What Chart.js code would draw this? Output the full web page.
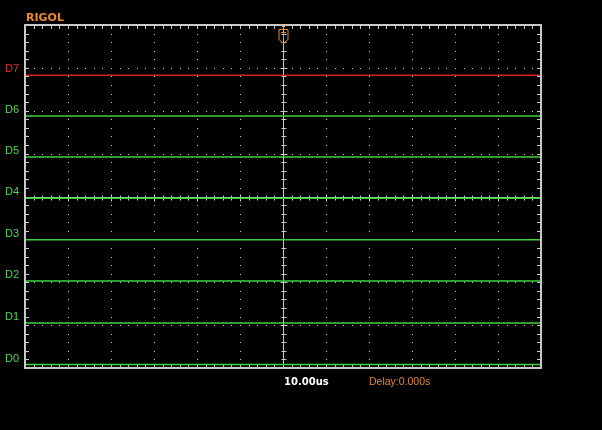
<!DOCTYPE html>
<html>
<head>
<meta charset="utf-8">
<script src="https://cdn.jsdelivr.net/npm/chart.js@4.4.1/dist/chart.umd.min.js"></script>
<style>
html,body{margin:0;padding:0;background:#000;}
#wrap{width:602px;height:430px;position:relative;background:#000;}
</style>
</head>
<body>
<div id="wrap"><canvas id="c" width="602" height="430"></canvas></div>
<script>
// Channel names and their (constant) logic trace levels, in screen divisions
const channels = ['D0','D1','D2','D3','D4','D5','D6','D7'];
const levels   = [0.08, 1.05, 2.03, 2.99, 3.96, 4.92, 5.88, 6.83];
const traceColors = ['#3fd23f','#3fd23f','#3fd23f','#3fd23f','#3fd23f','#3fd23f','#3fd23f','#d02626'];
const labelColors = ['#4fd64f','#4fd64f','#4fd64f','#4fd64f','#4fd64f','#4fd64f','#4fd64f','#e03030'];
// time axis (microseconds), 10 us / division, 12 divisions
const timeRange = [-60, 60];
const timebaseLabel = '10.00us';
const delayLabel = 'Delay:0.000s';
const brandLabel = 'RIGOL';

const datasets = channels.map((ch, i) => ({
  label: ch,
  data: [{x: timeRange[0], y: levels[i]}, {x: timeRange[1], y: levels[i]}],
  borderColor: traceColors[i],
  borderWidth: 1.5,
  pointRadius: 0,
  tension: 0
}));

const scopePlugin = {
  id: 'scope',
  beforeDatasetsDraw(chart) {
    const {ctx, chartArea: a, scales: {x, y}} = chart;
    ctx.save();
    // dotted graticule
    ctx.fillStyle = '#cfcfcf';
    for (let t = -50; t <= 50; t += 10) {
      if (t === 0) continue;
      const px = Math.round(x.getPixelForValue(t));
      for (let k = 1; k < 40; k++) {
        const py = Math.round(y.getPixelForValue(k * 0.2));
        ctx.fillRect(px, py, 1, 1);
      }
    }
    for (let v = 1; v <= 7; v++) {
      if (v === 4) continue;
      const py = Math.round(y.getPixelForValue(v));
      for (let k = 1; k < 60; k++) {
        const px = Math.round(x.getPixelForValue(timeRange[0] + k * 2));
        ctx.fillRect(px, py, 1, 1);
      }
    }
    // center cross
    ctx.strokeStyle = '#c8c8c8';
    ctx.lineWidth = 1;
    const cx = Math.round(x.getPixelForValue(0)) + 0.5;
    const cy = Math.round(y.getPixelForValue(4)) + 0.5;
    ctx.beginPath();
    ctx.moveTo(cx, a.top); ctx.lineTo(cx, a.bottom);
    ctx.moveTo(a.left, cy); ctx.lineTo(a.right, cy);
    for (let k = 1; k < 40; k++) {
      const py = Math.round(y.getPixelForValue(k * 0.2)) + 0.5;
      const l = (k % 5 === 0) ? 3 : 2;
      ctx.moveTo(cx - l, py); ctx.lineTo(cx + l + 1, py);
    }
    for (let k = 1; k < 60; k++) {
      const px = Math.round(x.getPixelForValue(timeRange[0] + k * 2)) + 0.5;
      const l = (k % 5 === 0) ? 3 : 2;
      ctx.moveTo(px, cy - l); ctx.lineTo(px, cy + l + 1);
    }
    ctx.stroke();
    // border ticks
    ctx.beginPath();
    for (let k = 1; k < 40; k++) {
      const py = Math.round(y.getPixelForValue(k * 0.2)) + 0.5;
      ctx.moveTo(a.left, py); ctx.lineTo(a.left + 4, py);
      ctx.moveTo(a.right, py); ctx.lineTo(a.right - 4, py);
    }
    for (let k = 1; k < 60; k++) {
      const px = Math.round(x.getPixelForValue(timeRange[0] + k * 2)) + 0.5;
      ctx.moveTo(px, a.top); ctx.lineTo(px, a.top + 4);
      ctx.moveTo(px, a.bottom); ctx.lineTo(px, a.bottom - 4);
    }
    ctx.stroke();
    ctx.restore();
  },
  afterDatasetsDraw(chart) {
    const {ctx, chartArea: a, scales: {x}} = chart;
    ctx.save();
    // frame
    ctx.strokeStyle = '#c8c8c8';
    ctx.lineWidth = 2;
    ctx.strokeRect(a.left, a.top, a.right - a.left, a.bottom - a.top);
    // trigger position marker
    const cx = Math.round(x.getPixelForValue(0)) + 0.5;
    ctx.strokeStyle = '#e08a30';
    ctx.lineWidth = 1;
    ctx.beginPath();
    ctx.moveTo(cx - 4.5, 29.5); ctx.lineTo(cx + 4.5, 29.5); ctx.lineTo(cx + 4.5, 39.5);
    ctx.lineTo(cx, 43.5); ctx.lineTo(cx - 4.5, 39.5); ctx.closePath();
    ctx.moveTo(cx - 2.5, 32.5); ctx.lineTo(cx + 2.5, 32.5);
    ctx.moveTo(cx, 32.5); ctx.lineTo(cx, 39);
    ctx.moveTo(cx - 3, 24.5); ctx.lineTo(cx, 27.5); ctx.lineTo(cx + 3, 24.5);
    ctx.stroke();
    // texts
    ctx.textBaseline = 'alphabetic';
    ctx.textAlign = 'left';
    ctx.fillStyle = '#e8892c';
    ctx.font = 'bold 11px "DejaVu Sans"';
    ctx.fillText(brandLabel, 26, 21);
    ctx.fillStyle = '#ffffff';
    ctx.font = 'bold 10px "DejaVu Sans"';
    ctx.fillText(timebaseLabel, 284, 384.5);
    ctx.fillStyle = '#e0853a';
    ctx.font = '10.5px "Liberation Sans"';
    ctx.fillText(delayLabel, 369, 384.5);
    ctx.restore();
  }
};

new Chart(document.getElementById('c'), {
  type: 'line',
  data: { datasets },
  options: {
    responsive: false,
    devicePixelRatio: 1,
    animation: false,
    layout: { padding: { left: 0, top: 25, right: 61, bottom: 62 } },
    plugins: { legend: { display: false }, tooltip: { enabled: false }, title: { display: false } },
    scales: {
      x: { type: 'linear', min: timeRange[0], max: timeRange[1], display: false },
      y: {
        type: 'linear', min: 0, max: 8,
        afterFit: s => { s.width = 25; },
        afterBuildTicks: s => { s.ticks = levels.map(v => ({ value: v })); },
        grid: { display: false, drawTicks: false, tickLength: 0 },
        border: { display: false },
        ticks: {
          autoSkip: false,
          padding: 6,
          labelOffset: -6,
          font: { family: 'Liberation Sans', size: 11 },
          color: c => labelColors[c.index],
          callback: (v, i) => channels[i]
        }
      }
    }
  },
  plugins: [scopePlugin]
});
</script>
</body>
</html>
